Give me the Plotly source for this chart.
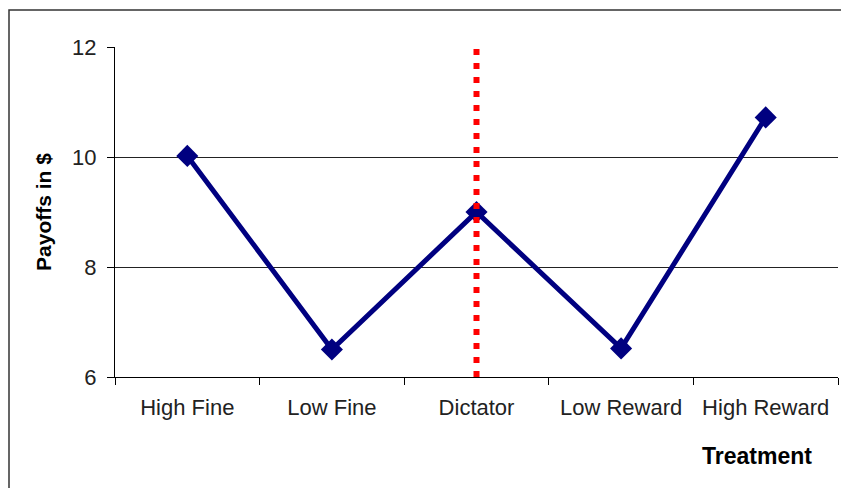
import plotly.graph_objects as go

categories = ["High Fine", "Low Fine", "Dictator", "Low Reward", "High Reward"]
payoffs = [10.02, 6.5, 9.0, 6.52, 10.72]
y_ticks = [6, 8, 10, 12]
divider_category = "Dictator"

# page body has an 8px margin; compensate so the plot lands where the reference has it
OFF = 8
W, H = 849, 488
L, T = 115 - OFF, 47 - OFF
R = W - (838 - OFF)
B = H - (377 - OFF)
pw, ph = W - L - R, H - T - B

def px_x(x):  # window pixel -> paper
    return (x - OFF - L) / pw

def px_y(y):
    return (H - B - (y - OFF)) / ph

fig = go.Figure()
fig.add_trace(go.Scatter(
    x=categories, y=payoffs, mode="lines+markers",
    line=dict(color="#000080", width=5),
    marker=dict(symbol="diamond", size=17, color="#000080"),
    showlegend=False, cliponaxis=False,
))

fig.add_shape(type="line", xref="x", yref="y",
              x0=divider_category, x1=divider_category, y0=6, y1=12,
              line=dict(color="#ff0000", width=6, dash="6px,8px"), layer="above")

# outer frame
fig.add_shape(type="rect", xref="paper", yref="paper",
              x0=px_x(9), x1=px_x(900), y0=px_y(600), y1=px_y(10),
              line=dict(color="#333333", width=1.5), fillcolor="rgba(0,0,0,0)", layer="below")

fig.add_annotation(text="<b>Treatment</b>", xref="paper", yref="paper",
                   x=px_x(814), y=px_y(456), xanchor="right", yanchor="middle",
                   showarrow=False, font=dict(size=23, color="#000000"))

fig.update_layout(
    width=W, height=H,
    margin=dict(l=L, r=R, t=T, b=B, pad=0),
    paper_bgcolor="white", plot_bgcolor="white",
    font=dict(family="Liberation Sans, Arial, sans-serif", color="#000000"),
    xaxis=dict(
        type="category", range=[-0.5, 4.5], tickson="boundaries",
        ticks="outside", ticklen=7, tickcolor="#000000", tickwidth=1,
        showline=True, linecolor="#000000", linewidth=1.2,
        showgrid=False, zeroline=False,
        tickfont=dict(size=22, color="#222222"),
        ticklabelstandoff=10,
    ),
    yaxis=dict(
        range=[6, 12], tickvals=y_ticks,
        ticks="outside", ticklen=7, tickcolor="#000000", tickwidth=1,
        showline=True, linecolor="#000000", linewidth=1.2,
        showgrid=True, gridcolor="#222222", gridwidth=1.2,
        zeroline=False,
        tickfont=dict(size=22, color="#222222"),
        ticklabelstandoff=6,
        title=dict(text="<b>Payoffs in $</b>", font=dict(size=21, color="#000000"), standoff=14),
    ),
)

fig.write_html("out.html")
